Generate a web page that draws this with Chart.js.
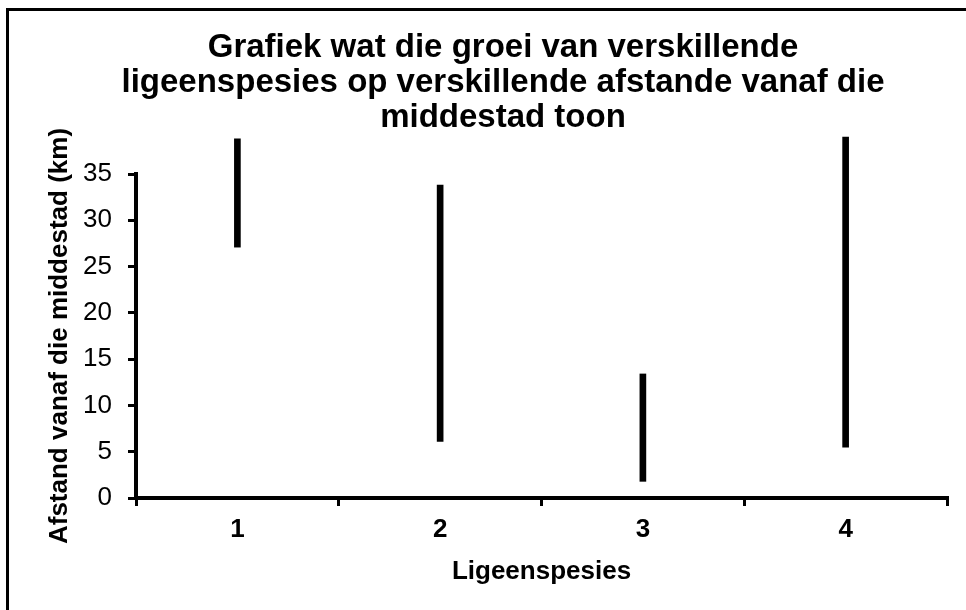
<!DOCTYPE html>
<html>
<head>
<meta charset="utf-8">
<script src="https://cdn.jsdelivr.net/npm/chart.js@4.4.1/dist/chart.umd.min.js"></script>
<style>
  html, body { margin: 0; padding: 0; background: #fff; }
  #wrap { position: relative; width: 966px; height: 610px; overflow: hidden; }
  /* outer chart frame: only top and left edges are visible in the picture */
  #frame { position: absolute; left: 6px; top: 8px; right: -10px; bottom: -10px;
           border-left: 3px solid #000; border-top: 3px solid #000; }
  canvas { position: absolute; left: 0; top: 0; }
</style>
</head>
<body>
<div id="wrap">
  <div id="frame"></div>
  <canvas id="chart" width="966" height="610"></canvas>
</div>
<script>
// Chart data
const categories = ['1', '2', '3', '4'];
const rangeLow = [27.1, 6.1, 1.8, 5.5];
const rangeHigh = [38.8, 33.8, 13.4, 39.0];
const yMin = 0;
const yMax = 35;
const yStep = 5;

const titleLines = [
    'Grafiek wat die groei van verskillende',
    'ligeenspesies op verskillende afstande vanaf die',
    'middestad toon'
];
const xTitle = 'Ligeenspesies';
const yTitle = 'Afstand vanaf die middestad (km)';

const FONT = "'Liberation Sans', Arial, sans-serif";

const ctx = document.getElementById('chart').getContext('2d');

new Chart(ctx, {
    type: 'bar',
    data: {
        labels: categories,
        datasets: [{
            data: categories.map((c, i) => [rangeLow[i], rangeHigh[i]]),
            backgroundColor: '#000',
            borderWidth: 0,
            barThickness: 6,
            clip: false   // the ranges run past the top of the axis
        }]
    },
    options: {
        responsive: false,
        animation: false,
        devicePixelRatio: 1,
        layout: {
            padding: { top: 0, left: 59, right: 19, bottom: 0 }
        },
        plugins: {
            legend: { display: false },
            tooltip: { enabled: false },
            title: {
                display: true,
                text: titleLines,
                color: '#000',
                font: { family: FONT, size: 33, weight: 'bold', lineHeight: '35px' },
                padding: { top: 30, bottom: 39 }
            }
        },
        scales: {
            x: {
                type: 'category',
                offset: true,
                grid: {
                    offset: true,
                    drawOnChartArea: false,
                    drawTicks: true,
                    tickLength: 8,
                    lineWidth: 3,
                    color: '#000'
                },
                border: { display: true, color: '#000', width: 4 },
                ticks: {
                    color: '#000',
                    padding: 8.4,
                    font: { family: FONT, size: 26, weight: 'bold' }
                },
                title: {
                    display: true,
                    text: xTitle,
                    color: '#000',
                    font: { family: FONT, size: 26, weight: 'bold' },
                    padding: { top: 2.4, bottom: 22.4 }
                }
            },
            y: {
                min: yMin,
                max: yMax,
                grid: {
                    drawOnChartArea: false,
                    drawTicks: true,
                    tickLength: 8,
                    lineWidth: 3,
                    color: '#000'
                },
                border: { display: true, color: '#000', width: 4 },
                ticks: {
                    stepSize: yStep,
                    color: '#000',
                    padding: 16,
                    font: { family: FONT, size: 26 }
                },
                title: {
                    display: true,
                    text: yTitle,
                    color: '#000',
                    font: { family: FONT, size: 26, weight: 'bold' },
                    padding: { top: -14.6, bottom: -8.5 }
                }
            }
        }
    }
});
</script>
</body>
</html>
